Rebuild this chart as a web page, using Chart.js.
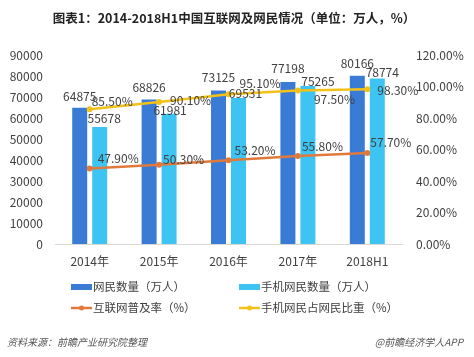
<!DOCTYPE html>
<html>
<head>
<meta charset="utf-8">
<script src="https://cdn.jsdelivr.net/npm/chart.js@4/dist/chart.umd.min.js"></script>
<style>
html,body{margin:0;padding:0;background:#fff;}
#wrap{width:474px;height:357px;position:relative;}
</style>
</head>
<body>
<div id="wrap"><canvas id="c" width="474" height="357"></canvas></div>
<script>
// ---- data ----
const categories = ['2014年', '2015年', '2016年', '2017年', '2018H1'];
const netizens = [64875, 68826, 73125, 77198, 80166];          // 网民数量（万人）
const mobileNetizens = [55678, 61981, 69531, 75265, 78774];    // 手机网民数量（万人）
const penetration = [47.9, 50.3, 53.2, 55.8, 57.7];            // 互联网普及率（%）
const mobileShare = [85.5, 90.1, 95.1, 97.5, 98.3];            // 手机网民占网民比重（%）
const leftTicks = [0, 10000, 20000, 30000, 40000, 50000, 60000, 70000, 80000, 90000];
const rightTicks = [0, 20, 40, 60, 80, 100, 120];
const seriesNames = ['网民数量（万人）', '手机网民数量（万人）', '互联网普及率（%）', '手机网民占网民比重（%）'];
const titleText = '图表1：2014-2018H1中国互联网及网民情况（单位：万人，%）';
const sourceText = '资料来源：前瞻产业研究院整理';
const brandText = '@前瞻经济学人APP';

// ---- styles ----
const C_DARK = '#3a7bd5', C_LIGHT = '#3ec4f3', C_ORANGE = '#e07a3c', C_YELLOW = '#f2c21b';
const FONT = "'Noto Sans CJK SC', 'Noto Sans', sans-serif";
const TXT = '#404040';

// label offsets (styling): bars -> [dx from bar center, dy from bar top] ; lines -> [dx from point (left aligned), dy from point]
const labelOffsets = [
  [[0,-11],[0,-12.5],[0,-13],[0,-13],[0,-12.5]],
  [[4.5,-9],[1,-3],[7,-5],[10,-5],[5,-6]],
  [[8,-10],[4,-5],[6,-9.5],[4,-10],[3,-11]],
  [[2,-8],[11,-2],[11,-11],[16,9],[10,1]]
];

const labelPlugin = {
  id: 'labels',
  afterDatasetsDraw(chart) {
    const ctx = chart.ctx;
    ctx.save();
    ctx.font = '12px ' + FONT;
    ctx.fillStyle = TXT;
    ctx.textBaseline = 'middle';
    chart.data.datasets.forEach((ds, di) => {
      const meta = chart.getDatasetMeta(di);
      meta.data.forEach((el, i) => {
        const off = labelOffsets[di][i];
        const v = ds.data[i];
        if (ds.type === 'line') {
          ctx.textAlign = 'left';
          ctx.fillText(v.toFixed(2) + '%', el.x + off[0], el.y + off[1]);
        } else {
          ctx.textAlign = 'center';
          ctx.fillText(String(v), el.x + off[0], el.y + off[1]);
        }
      });
    });
    ctx.restore();
  },
  afterDraw(chart) {
    const ctx = chart.ctx;
    ctx.save();
    // title
    ctx.font = 'bold 12.5px ' + FONT;
    ctx.fillStyle = '#222';
    ctx.textAlign = 'center';
    ctx.textBaseline = 'middle';
    ctx.fillText(titleText, 234, 18);
    // legend
    ctx.font = '11.5px ' + FONT;
    const colors = [C_DARK, C_LIGHT, C_ORANGE, C_YELLOW];
    const pos = [[71, 287], [239, 287], [71, 308], [239, 308]];
    seriesNames.forEach((name, k) => {
      const [x, y] = pos[k];
      if (k < 2) {
        ctx.fillStyle = colors[k];
        ctx.fillRect(x, y - 3, 21, 6);
      } else {
        ctx.strokeStyle = colors[k];
        ctx.lineWidth = 2.5;
        ctx.beginPath(); ctx.moveTo(x, y); ctx.lineTo(x + 21, y); ctx.stroke();
        ctx.fillStyle = colors[k];
        ctx.beginPath(); ctx.arc(x + 10.5, y, 2.5, 0, Math.PI * 2); ctx.fill();
      }
      ctx.fillStyle = TXT;
      ctx.textAlign = 'left';
      ctx.fillText(name, x + 22, y);
    });
    // footnote
    ctx.font = 'italic 10px ' + FONT;
    ctx.fillStyle = '#555';
    ctx.textAlign = 'left';
    ctx.fillText(sourceText, 7, 342);
    ctx.textAlign = 'right';
    ctx.fillText(brandText, 463, 342);
    ctx.restore();
  }
};

new Chart(document.getElementById('c'), {
  type: 'bar',
  data: {
    labels: categories,
    datasets: [
      { type: 'bar', label: seriesNames[0], data: netizens, backgroundColor: C_DARK, yAxisID: 'y', order: 2,
        categoryPercentage: 0.576, barPercentage: 0.75 },
      { type: 'bar', label: seriesNames[1], data: mobileNetizens, backgroundColor: C_LIGHT, yAxisID: 'y', order: 2,
        categoryPercentage: 0.576, barPercentage: 0.75 },
      { type: 'line', label: seriesNames[2], data: penetration, borderColor: C_ORANGE, backgroundColor: C_ORANGE,
        yAxisID: 'y1', order: 1, borderWidth: 2.5, pointRadius: 3, pointBorderWidth: 0, tension: 0 },
      { type: 'line', label: seriesNames[3], data: mobileShare, borderColor: C_YELLOW, backgroundColor: C_YELLOW,
        yAxisID: 'y1', order: 1, borderWidth: 2.5, pointRadius: 3, pointBorderWidth: 0, tension: 0 }
    ]
  },
  options: {
    responsive: false,
    animation: false,
    events: [],
    layout: { padding: { top: 55, left: 0, right: 0, bottom: 0 } },
    plugins: { legend: { display: false }, tooltip: { enabled: false }, title: { display: false } },
    scales: {
      x: {
        grid: { display: false, drawTicks: false },
        border: { display: true, color: '#d9d9d9', width: 1 },
        ticks: { color: TXT, font: { family: FONT, size: 12 }, padding: 10, maxRotation: 0 },
        afterFit(s) { s.height = 113; }
      },
      y: {
        position: 'left', min: 0, max: leftTicks[leftTicks.length - 1],
        grid: { display: false, drawTicks: false },
        border: { display: false },
        afterBuildTicks(s) { s.ticks = leftTicks.map(v => ({ value: v })); },
        ticks: { color: TXT, font: { family: FONT, size: 12 }, padding: 12, callback: v => String(v) },
        afterFit(s) { s.width = 55; }
      },
      y1: {
        position: 'right', min: 0, max: rightTicks[rightTicks.length - 1],
        grid: { display: false, drawTicks: false },
        border: { display: false },
        afterBuildTicks(s) { s.ticks = rightTicks.map(v => ({ value: v })); },
        ticks: { color: TXT, font: { family: FONT, size: 12 }, padding: 14, callback: v => v.toFixed(2) + '%' },
        afterFit(s) { s.width = 72; }
      }
    }
  },
  plugins: [labelPlugin]
});
</script>
</body>
</html>
